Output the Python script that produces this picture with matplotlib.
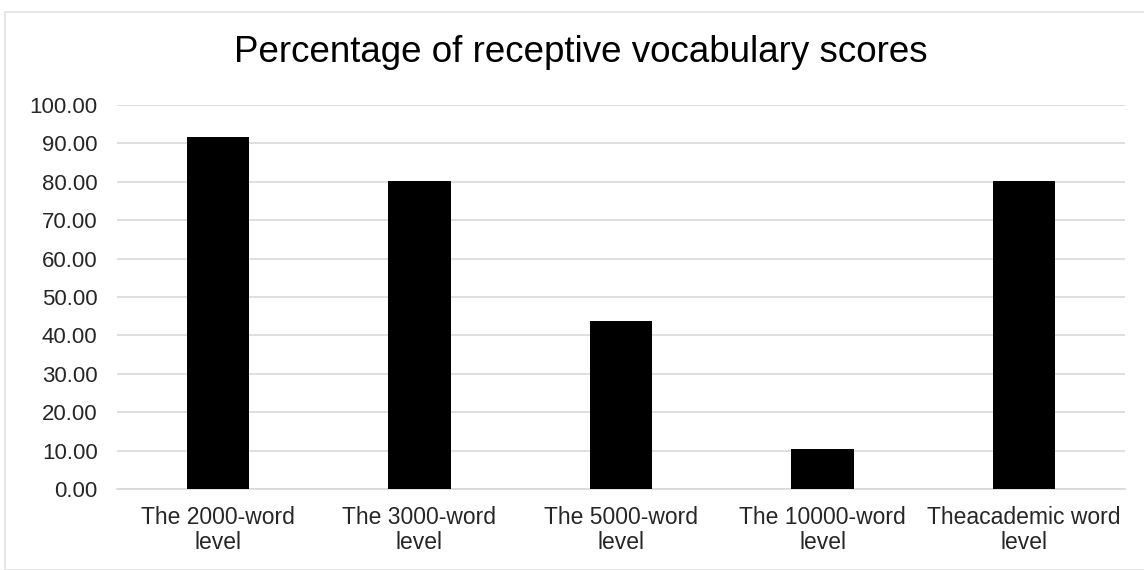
import matplotlib.pyplot as plt
from matplotlib.patches import Rectangle

plt.rcParams['font.family'] = ['Liberation Sans', 'DejaVu Sans']

levels = ["The 2000-word\nlevel", "The 3000-word\nlevel", "The 5000-word\nlevel",
          "The 10000-word\nlevel", "Theacademic word\nlevel"]
scores = [91.7, 80.2, 43.8, 10.3, 80.2]
y_ticks = [0, 10, 20, 30, 40, 50, 60, 70, 80, 90, 100]

fig = plt.figure(figsize=(11.44, 5.70), dpi=100)
ax = fig.add_axes([117 / 1144, 1 - 489 / 570, (1125 - 117) / 1144, (489 - 105) / 570])

x = range(len(levels))
ax.bar(x, scores, width=0.31, color="black", zorder=3)

ax.set_xlim(-0.5, len(levels) - 0.5)
ax.set_ylim(0, 100)
ax.set_yticks(y_ticks)
ax.set_yticklabels([f"{v:.2f}" for v in y_ticks], fontsize=16, color="#262626")
ax.set_xticks(list(x))
ax.set_xticklabels(levels, fontsize=16.5, color="#262626", linespacing=1.15)
ax.tick_params(axis="y", length=0, pad=14)
ax.tick_params(axis="x", length=0, pad=12)
ax.yaxis.grid(True, color="#d9d9d9", linewidth=1.2, zorder=0)
for s in ax.spines.values():
    s.set_visible(False)
ax.spines["bottom"].set_visible(True)
ax.spines["bottom"].set_color("#d9d9d9")
ax.spines["bottom"].set_linewidth(1.2)

fig.text(581 / 1144, 1 - 53 / 570, "Percentage of receptive vocabulary scores",
         ha="center", va="center", fontsize=26.5, color="black")

# chart area border
fig.patches.append(Rectangle((5 / 1144, 0), 1.2, 1 - 12 / 570, transform=fig.transFigure,
                             fill=False, edgecolor="#e0e0e0", linewidth=1.2))

fig.savefig("out.png", dpi=100)
